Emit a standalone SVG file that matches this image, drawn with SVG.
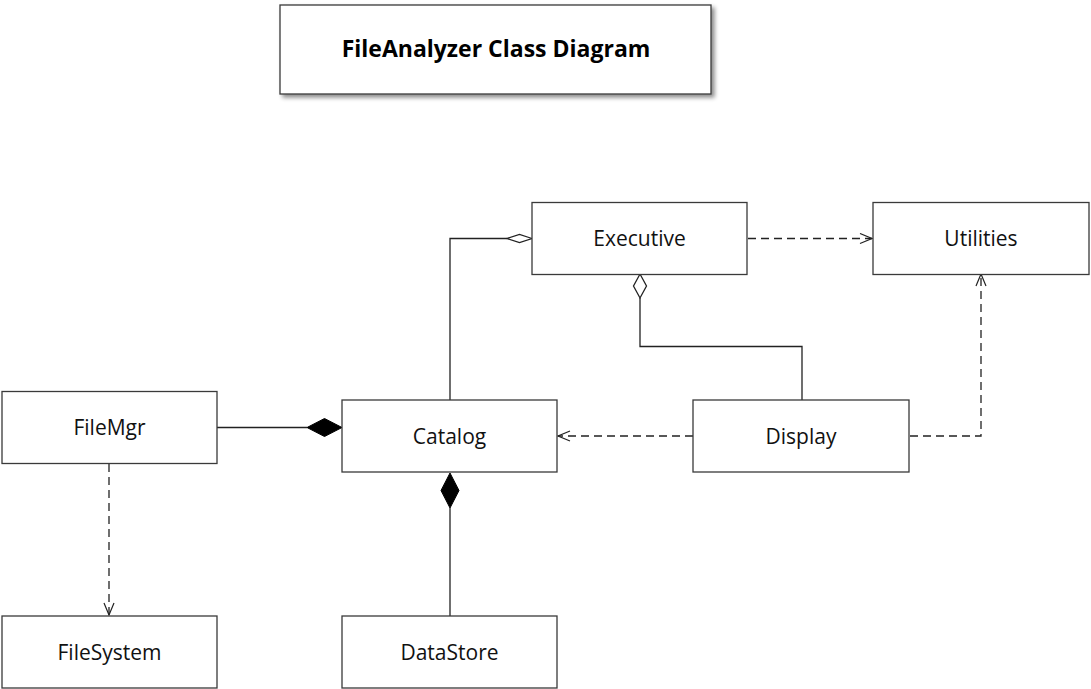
<svg xmlns="http://www.w3.org/2000/svg" width="1091" height="689" viewBox="0 0 1091 689">
<style>
.box{fill:#fff;stroke:#3a3a3a;stroke-width:1.3}
.lbl{font-family:"Open Sans","Liberation Sans",sans-serif;font-size:21px;fill:#111;text-anchor:middle;dominant-baseline:central}
.ttl{font-family:"Open Sans","Liberation Sans",sans-serif;font-size:23px;font-weight:bold;fill:#000;text-anchor:middle;dominant-baseline:central}
.ln{fill:none;stroke:#222;stroke-width:1.3}
.dash{fill:none;stroke:#222;stroke-width:1.3;stroke-dasharray:8 5}
.open{fill:#fff;stroke:#222;stroke-width:1.3}
.fill{fill:#000;stroke:#000;stroke-width:1}
</style>
<defs>
<filter id="sh" x="-10%" y="-10%" width="120%" height="130%">
<feDropShadow dx="3" dy="3" stdDeviation="2" flood-color="#000" flood-opacity="0.45"/>
</filter>
<marker id="arr" markerWidth="14" markerHeight="12" refX="13" refY="6" orient="auto" markerUnits="userSpaceOnUse">
<path d="M1,1 L13,6 L1,11" fill="none" stroke="#222" stroke-width="1.2"/>
</marker>
</defs>
<rect width="1091" height="689" fill="#fff"/>
<g id="title">
<rect x="280" y="5" width="431" height="89" class="box" filter="url(#sh)"/>
<text x="496" y="48" class="ttl">FileAnalyzer Class Diagram</text>
</g>
<g id="connectors">
<path class="ln" d="M450,400 V238.5 H507"/>
<polygon class="open" points="532,238.5 519.5,234.5 507,238.5 519.5,242.5"/>
<path class="ln" d="M640,298 V346.5 H802 V400"/>
<polygon class="open" points="640,274 646.5,286 640,298 633.5,286"/>
<path class="dash" d="M748,238.5 H872" marker-end="url(#arr)"/>
<path class="dash" d="M910,436 H981 V274" marker-end="url(#arr)"/>
<path class="dash" d="M693,436 H558" marker-end="url(#arr)"/>
<path class="ln" d="M217,427.5 H307"/>
<polygon class="fill" points="342,427.5 324.5,418.5 307,427.5 324.5,436.5"/>
<path class="ln" d="M450,508 V616"/>
<polygon class="fill" points="450,473 459,490.5 450,508 441,490.5"/>
<path class="dash" d="M109,464 V615" marker-end="url(#arr)"/>
</g>
<g id="executive"><rect x="532" y="202.5" width="215" height="72" class="box"/><text x="639.5" y="238" class="lbl">Executive</text></g>
<g id="utilities"><rect x="873" y="202.5" width="216" height="72" class="box"/><text x="981" y="238" class="lbl">Utilities</text></g>
<g id="filemgr"><rect x="2" y="391.5" width="215" height="72" class="box"/><text x="109.5" y="427" class="lbl">FileMgr</text></g>
<g id="catalog"><rect x="342" y="400" width="215" height="72" class="box"/><text x="449.5" y="435.5" class="lbl">Catalog</text></g>
<g id="display"><rect x="693" y="400" width="216" height="72" class="box"/><text x="801" y="435.5" class="lbl">Display</text></g>
<g id="filesystem"><rect x="2" y="616" width="215" height="72" class="box"/><text x="109.5" y="651.5" class="lbl">FileSystem</text></g>
<g id="datastore"><rect x="342" y="616" width="215" height="72" class="box"/><text x="449.5" y="651.5" class="lbl">DataStore</text></g>
</svg>
